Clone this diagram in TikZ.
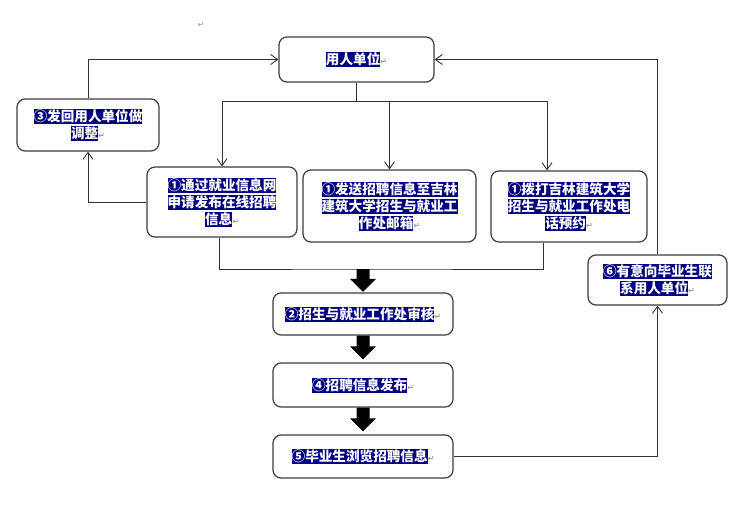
\documentclass[tikz,border=0pt]{standalone}
\usepackage{fontspec}
\setmainfont{Noto Sans CJK SC}
\newfontfamily\symf{DejaVu Sans}
\usetikzlibrary{arrows.meta,calc}
\definecolor{hlnavy}{RGB}{0,0,128}
\definecolor{edgec}{RGB}{60,60,60}
\definecolor{linec}{RGB}{50,50,50}
\newcommand\hlt[1]{{\setlength\fboxsep{0pt}\colorbox{hlnavy}{\rule[-2.5pt]{0pt}{15pt}\textcolor{white}{#1}}}}
\newcommand\pmark{\textcolor{gray!80}{\symf\fontsize{8}{8}\selectfont ↵}}
\newcommand\blockarr[2]{\fill[black] ($(#1)+(-6.5,0)$) -- ($(#2)+(-6.5,-13)$) -- ($(#2)+(-13,-13)$) -- (#2) -- ($(#2)+(13,-13)$) -- ($(#2)+(6.5,-13)$) -- ($(#1)+(6.5,0)$) -- cycle;}
\begin{document}
\begin{tikzpicture}[x=1pt,y=-1pt,
  box/.style={draw=edgec,line width=1.2pt,rounded corners=8pt,inner sep=0pt,align=center,
    font=\fontsize{13.6}{17}\selectfont\bfseries},
  conn/.style={draw=linec,line width=0.9pt},
  arr/.style={conn,-{Straight Barb[length=7pt,width=10pt]}}]
\fill[white] (0,0) rectangle (738,513);
\useasboundingbox (0,0) rectangle (738,513);

\node[inner sep=0pt] (pm0) at (201,25) {\pmark};

\node[box,minimum width=155pt,minimum height=45pt] (yr) at (356.5,59.5) {\hlt{用人单位}\pmark};
\node[box,minimum width=142pt,minimum height=52pt] (b3) at (88,125) {\hlt{③发回用人单位做}\\\hlt{调整}\pmark};
\node[box,minimum width=150pt,minimum height=70pt] (b1a) at (222,202) {\hlt{①通过就业信息网}\\\hlt{申请发布在线招聘}\\\hlt{信息}\pmark};
\node[box,minimum width=173pt,minimum height=72pt] (b1b) at (389.5,206) {\hlt{①发送招聘信息至吉林}\\\hlt{建筑大学招生与就业工}\\\hlt{作处邮箱}\pmark};
\node[box,minimum width=156pt,minimum height=71pt] (b1c) at (569,206.5) {\hlt{①拨打吉林建筑大学}\\\hlt{招生与就业工作处电}\\\hlt{话预约}\pmark};
\node[box,minimum width=139pt,minimum height=50pt] (b6) at (657.5,280) {\hlt{⑥有意向毕业生联}\\\hlt{系用人单位}\pmark};
\node[box,minimum width=180pt,minimum height=42pt] (b2) at (363,314) {\hlt{②招生与就业工作处审核}\pmark};
\node[box,minimum width=180pt,minimum height=44pt] (b4) at (363,385) {\hlt{④招聘信息发布}\pmark};
\node[box,minimum width=180pt,minimum height=43pt] (b5) at (363,456.5) {\hlt{⑤毕业生浏览招聘信息}\pmark};

% top distribution
\coordinate (ja) at (356.5,101);
\draw[conn] (yr.south) -- (ja);
\draw[arr] (ja) -| (b1a.north);
\draw[arr] (ja) -| (b1b.north);
\draw[arr] (ja) -| ([xshift=-22pt]b1c.north);

% left loop
\draw[arr] (b1a.west) -| (b3.south);
\draw[arr] (b3.north) |- (yr.west);

% merge under the three boxes
\coordinate (jb) at (363,269);
\draw[conn] ([xshift=-3pt]b1a.south) |- (jb) -| ([xshift=-26pt]b1c.south);

% block arrows
\coordinate (t2) at ($(b2.north)+(0,-0.5)$);
\coordinate (t4) at ($(b4.north)+(0,-3)$);
\coordinate (t5) at ($(b5.north)+(0,-3)$);
\blockarr{jb}{t2}
\blockarr{b2.south}{t4}
\blockarr{b4.south}{t5}

% right loop
\draw[arr] (b5.east) -| (b6.south);
\draw[arr] (b6.north) |- (yr.east);
\end{tikzpicture}
\end{document}
